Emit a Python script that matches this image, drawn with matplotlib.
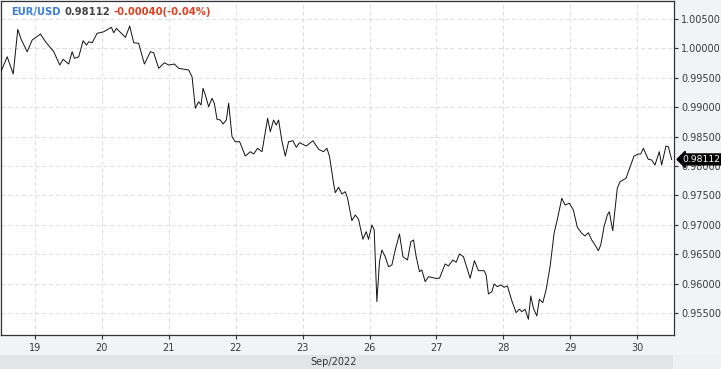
import matplotlib
matplotlib.use("Agg")
import matplotlib.pyplot as plt
from matplotlib.patches import Rectangle
from matplotlib.ticker import FixedLocator, FuncFormatter
import matplotlib.transforms as mtransforms

# ---- data ----
symbol = "EUR/USD"
last_price = 0.98112
change_text = "-0.00040(-0.04%)"
day_labels = ["19", "20", "21", "22", "23", "26", "27", "28", "29", "30"]
month_label = "Sep/2022"
y_ticks = [0.955, 0.960, 0.965, 0.970, 0.975, 0.980, 0.985, 0.990, 0.995, 1.000, 1.005]

# trading-day index (0 = Sep 19, weekends skipped)
t_days = [
    -0.512, -0.412, -0.322, -0.254, -0.203, -0.113, -0.039, 0.085, 0.160, 0.284,
    0.373, 0.424, 0.507, 0.558, 0.593, 0.657, 0.722, 0.772, 0.806, 0.857,
    0.931, 1.030, 1.145, 1.179, 1.219, 1.354, 1.418, 1.478, 1.552, 1.637,
    1.727, 1.776, 1.851, 1.936, 2.000, 2.085, 2.149, 2.299, 2.349, 2.399,
    2.448, 2.484, 2.513, 2.548, 2.597, 2.648, 2.682, 2.722, 2.772, 2.812,
    2.861, 2.896, 2.921, 2.946, 2.996, 3.060, 3.145, 3.219, 3.269, 3.328,
    3.394, 3.478, 3.518, 3.567, 3.607, 3.642, 3.693, 3.742, 3.791, 3.857,
    3.906, 3.955, 4.055, 4.155, 4.239, 4.313, 4.364, 4.403, 4.463, 4.488,
    4.537, 4.588, 4.637, 4.672, 4.737, 4.787, 4.836, 4.901, 4.951, 4.985,
    5.036, 5.070, 5.110, 5.149, 5.185, 5.234, 5.284, 5.334, 5.384, 5.448,
    5.499, 5.567, 5.618, 5.657, 5.697, 5.746, 5.782, 5.831, 5.881, 5.981,
    6.045, 6.130, 6.179, 6.245, 6.294, 6.343, 6.403, 6.503, 6.567, 6.627,
    6.712, 6.742, 6.776, 6.827, 6.861, 6.910, 6.961, 7.010, 7.060, 7.125,
    7.190, 7.239, 7.275, 7.324, 7.373, 7.409, 7.448, 7.499, 7.537, 7.588,
    7.637, 7.697, 7.757, 7.806, 7.872, 7.921, 7.985, 8.045, 8.104, 8.170,
    8.219, 8.269, 8.319, 8.369, 8.418, 8.454, 8.503, 8.552, 8.582, 8.603,
    8.633, 8.667, 8.701, 8.742, 8.831, 8.951, 9.015, 9.051, 9.090, 9.164,
    9.215, 9.264, 9.328, 9.364, 9.428, 9.463, 9.513,
]
price = [
    0.99586, 0.99858, 0.99564, 1.00324, 1.00154, 0.99943, 1.00142, 1.00244, 1.00113, 0.99943,
    0.99717, 0.99814, 0.99734, 0.99943, 0.99831, 0.99858, 1.00130, 1.00057, 1.00113, 1.00096,
    1.00256, 1.00283, 1.00358, 1.00266, 1.00341, 1.00188, 1.00380, 1.00096, 1.00086, 0.99734,
    0.99943, 0.99926, 0.99661, 0.99756, 0.99717, 0.99734, 0.99661, 0.99632, 0.99518, 0.98981,
    0.99093, 0.99037, 0.99321, 0.99207, 0.99008, 0.99151, 0.99066, 0.98794, 0.98782, 0.98714,
    0.98782, 0.99066, 0.98782, 0.98498, 0.98413, 0.98413, 0.98170, 0.98243, 0.98204, 0.98301,
    0.98243, 0.98811, 0.98583, 0.98782, 0.98697, 0.98782, 0.98413, 0.98170, 0.98413, 0.98430,
    0.98318, 0.98396, 0.98340, 0.98430, 0.98284, 0.98243, 0.98301, 0.98158, 0.97706, 0.97546,
    0.97638, 0.97524, 0.97563, 0.97451, 0.97070, 0.97167, 0.97094, 0.96754, 0.96883, 0.96754,
    0.96997, 0.96912, 0.95693, 0.96373, 0.96572, 0.96458, 0.96288, 0.96317, 0.96572, 0.96844,
    0.96458, 0.96402, 0.96713, 0.96742, 0.96458, 0.96203, 0.96232, 0.96033, 0.96118, 0.96091,
    0.96091, 0.96334, 0.96300, 0.96402, 0.96363, 0.96504, 0.96458, 0.96091, 0.96390, 0.96220,
    0.96220, 0.96147, 0.95824, 0.95863, 0.95994, 0.95948, 0.95977, 0.95938, 0.95960, 0.95710,
    0.95506, 0.95564, 0.95523, 0.95564, 0.95394, 0.95790, 0.95581, 0.95450, 0.95734, 0.95676,
    0.95892, 0.96288, 0.96856, 0.97094, 0.97451, 0.97337, 0.97366, 0.97252, 0.96958, 0.96856,
    0.96810, 0.96866, 0.96742, 0.96657, 0.96560, 0.96657, 0.96968, 0.97167, 0.97223, 0.97082,
    0.96900, 0.97252, 0.97621, 0.97733, 0.97791, 0.98170, 0.98204, 0.98204, 0.98301, 0.98114,
    0.98102, 0.98017, 0.98243, 0.98017, 0.98340, 0.98328, 0.98112,
]

# ---- figure ----
W, H = 721, 369
fig = plt.figure(figsize=(W / 100, H / 100), dpi=100)
fig.patch.set_facecolor("#f1f3f6")

# bottom band
fig.add_artist(Rectangle((0, 0), 673 / W, 14 / H, transform=fig.transFigure,
                         facecolor="#e3e4e6", edgecolor="none", zorder=0))
fig.add_artist(Rectangle((673 / W, 0), (W - 673) / W, 14 / H, transform=fig.transFigure,
                         facecolor="#eef0f3", edgecolor="none", zorder=0))
fig.text(334 / W, (H - 362) / H, month_label, ha="center", va="center",
         fontsize=7, color="#333333")

ax = fig.add_axes([0.5 / W, (H - 335) / H, 673.5 / W, 334 / H])
ax.set_facecolor("white")
ax.plot(t_days, price, color="#111111", linewidth=0.7, zorder=3)

ax.set_xlim(-0.512, 9.548)
ax.set_ylim(0.95126, 1.00806)

ax.xaxis.set_major_locator(FixedLocator(range(len(day_labels))))
ax.xaxis.set_major_formatter(FuncFormatter(
    lambda v, p: day_labels[int(round(v))] if 0 <= int(round(v)) < len(day_labels) else ""))
ax.yaxis.set_major_locator(FixedLocator(y_ticks))
ax.yaxis.set_major_formatter(FuncFormatter(lambda v, p: f"{v:.5f}"))
ax.yaxis.tick_right()

ax.tick_params(axis="both", direction="out", length=3, width=0.8, color="#333333",
               labelsize=7, labelcolor="#3a3a3a")
ax.tick_params(axis="x", pad=3)
ax.tick_params(axis="y", pad=2)

ax.grid(True, color="#dcdcdc", linestyle=(0, (4, 3)), linewidth=0.7, zorder=0)
for s in ax.spines.values():
    s.set_color("#333333")
    s.set_linewidth(0.9)

# price tag
trans = mtransforms.blended_transform_factory(ax.transAxes, ax.transData)
ax.text(1.013, last_price, f"{last_price:.5f}", transform=trans, ha="left", va="center",
        fontsize=6.7, color="white", zorder=10, clip_on=False,
        bbox=dict(boxstyle="larrow,pad=0.1", facecolor="black", edgecolor="black"))

# header
fig.canvas.draw()
renderer = fig.canvas.get_renderer()
x0 = 11 / W
yh = (H - 12) / H
parts = [(symbol, "#3b7ddd"), (f"{last_price:.5f}", "#444444"), (change_text, "#e0401f")]
for i, (txt, col) in enumerate(parts):
    t = fig.text(x0, yh, txt, ha="left", va="center", fontsize=7.2,
                 fontweight="bold", color=col)
    bb = t.get_window_extent(renderer)
    x0 = (bb.x1 + (4 if i == 0 else 3)) / W

fig.savefig("out.png", dpi=100, facecolor=fig.get_facecolor())
